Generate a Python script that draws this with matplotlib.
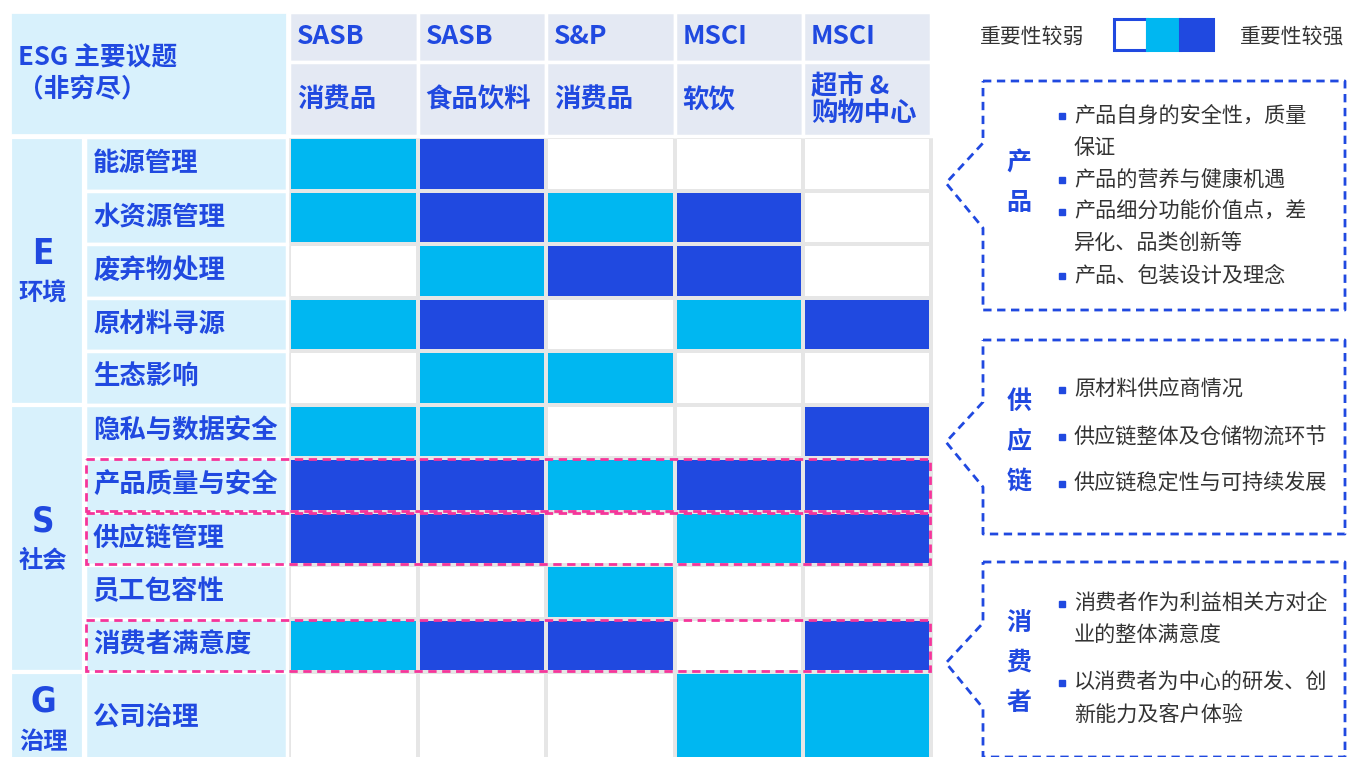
import matplotlib
matplotlib.use("Agg")
import matplotlib.pyplot as plt
from matplotlib.colors import ListedColormap
from matplotlib.patches import Rectangle
import numpy as np

plt.rcParams['font.family'] = ['Noto Sans CJK SC', 'DejaVu Sans']

# ---- data ----
sources = ["SASB", "SASB", "S&P", "MSCI", "MSCI"]
industries = ["消费品", "食品饮料", "消费品", "软饮", "超市 &\n购物中心"]
topics = ["能源管理", "水资源管理", "废弃物处理", "原材料寻源", "生态影响",
          "隐私与数据安全", "产品质量与安全", "供应链管理", "员工包容性", "消费者满意度",
          "公司治理"]
groups = [("E", "环境", 0, 5), ("S", "社会", 5, 10), ("G", "治理", 10, 11)]
# 0 = weaker (white), 1 = medium (cyan), 2 = stronger (dark blue)
levels = np.array([
    [1, 2, 0, 0, 0],
    [1, 2, 1, 2, 0],
    [0, 1, 2, 2, 0],
    [1, 2, 0, 1, 2],
    [0, 1, 1, 0, 0],
    [1, 1, 0, 0, 2],
    [2, 2, 1, 2, 2],
    [2, 2, 0, 1, 2],
    [0, 0, 1, 0, 0],
    [1, 2, 2, 0, 2],
    [0, 0, 0, 1, 1],
])
highlight_rows = ["产品质量与安全", "供应链管理", "消费者满意度"]
legend_low, legend_high = "重要性较弱", "重要性较强"
notes = [
    ("产品", [["产品自身的安全性，质量", "保证"], ["产品的营养与健康机遇"],
              ["产品细分功能价值点，差", "异化、品类创新等"], ["产品、包装设计及理念"]]),
    ("供应链", [["原材料供应商情况"], ["供应链整体及仓储物流环节"], ["供应链稳定性与可持续发展"]]),
    ("消费者", [["消费者作为利益相关方对企", "业的整体满意度"], ["以消费者为中心的研发、创", "新能力及客户体验"]]),
]

# ---- style ----
WHITE, CYAN, DARK = "#ffffff", "#00b7f1", "#2049e0"
LIGHT = "#d8f1fc"
HEAD = "#e4e9f3"
PINK = "#f5359a"
TXT = "#333333"

fig = plt.figure(figsize=(13.47, 7.57), dpi=100)
ax = fig.add_axes([0, 0, 1, 1])
ax.set_xlim(0, 1347)
ax.set_ylim(757, 0)
ax.axis("off")

# layout (pixels)
x_edges = np.array([289, 417.5, 546, 674.5, 803, 931])
row_h = 53.5
y_edges = np.append(137 + row_h * np.arange(11), 762)

# heatmap cells
cmap = ListedColormap([WHITE, CYAN, DARK])
ax.pcolormesh(x_edges, y_edges, levels, cmap=cmap, vmin=-0.5, vmax=2.5,
              edgecolors="#e6e6e6", linewidth=1.5)

# header
ax.add_patch(Rectangle((10, 12), 277, 123, facecolor=LIGHT, edgecolor="white", lw=2))
ax.text(18, 58, "ESG 主要议题", fontsize=18.5, fontweight="bold", color=DARK, va="center")
ax.text(18, 90, "（非穷尽）", fontsize=18.5, fontweight="bold", color=DARK, va="center")
for i, (src, ind) in enumerate(zip(sources, industries)):
    x0, x1 = x_edges[i], x_edges[i + 1]
    ax.add_patch(Rectangle((x0, 12), x1 - x0, 50, facecolor=HEAD, edgecolor="white", lw=2.5))
    ax.add_patch(Rectangle((x0, 62), x1 - x0, 74, facecolor=HEAD, edgecolor="white", lw=2.5))
    ax.text(x0 + 8, 37, src, fontsize=19, fontweight="bold", color=DARK, va="center")
    ax.text(x0 + 8, 100, ind, fontsize=19, fontweight="bold", color=DARK, va="center",
            linespacing=1.0)

# topic labels
for r, t in enumerate(topics):
    y0, y1 = y_edges[r], y_edges[r + 1]
    ax.add_patch(Rectangle((85, y0), 202, y1 - y0, facecolor=LIGHT, edgecolor="white", lw=2.5))
    yc = (y0 + y1) / 2 if r < len(topics) - 1 else 717
    ax.text(93, yc, t, fontsize=19, fontweight="bold", color=DARK, va="center")

# group labels
for letter, name, r0, r1 in groups:
    y0, y1 = y_edges[r0], y_edges[r1]
    ax.add_patch(Rectangle((10, y0), 74, y1 - y0, facecolor=LIGHT, edgecolor="white", lw=3))
    yc = (y0 + y1) / 2 if r1 - r0 > 1 else 719
    ax.text(43, yc - 17, letter, fontsize=25, fontweight="bold", color=DARK,
            ha="center", va="center", family="DejaVu Sans", fontstretch="condensed")
    ax.text(43, yc + 23, name, fontsize=17.5, fontweight="bold", color=DARK,
            ha="center", va="center")

# highlighted rows (pink dashed)
for t in highlight_rows:
    r = topics.index(t)
    ax.add_patch(Rectangle((86, y_edges[r] + 1), 844, row_h - 2, facecolor="none",
                           edgecolor=PINK, lw=2, linestyle=(0, (3, 2)), zorder=5))

# legend
ax.text(980, 37, legend_low, fontsize=15, color=TXT, va="center")
ax.text(1240, 37, legend_high, fontsize=15, color=TXT, va="center")
for k, c in enumerate([WHITE, CYAN, DARK]):
    ax.add_patch(Rectangle((1114 + 33 * k, 19), 33, 31, facecolor=c,
                           edgecolor=DARK if k == 0 else c, lw=2.2, zorder=3))

# note boxes with chevrons
boxes = [(81, 310, 183), (340, 534, 442), (562, 757, 663)]
for (top, bot, apex), (label, items) in zip(boxes, notes):
    xl, xr, xp = 983, 1345, 946
    px = [xl, xr, xr, xl, xl, xp, xl, xl]
    py = [top, top, bot, bot, apex + 45, apex, apex - 40, top]
    ax.plot(px, py, color=DARK, lw=2, linestyle=(0, (3, 2)), solid_joinstyle="miter")
    n = len(label)
    for k, ch in enumerate(label):
        ax.text(1019, apex + (k - (n - 1) / 2) * 40, ch, fontsize=18, fontweight="bold",
                color=DARK, ha="center", va="center")
    nlines = sum(len(it) for it in items)
    gap = 15 if label != "产品" else 0
    total = nlines * 32 + (len(items) - 1) * gap
    y = (top + bot) / 2 - total / 2 + 16
    for it in items:
        ax.plot(1062, y, marker="s", ms=4.5, color=DARK)
        for line in it:
            ax.text(1074, y, line, fontsize=15.2, color=TXT, va="center")
            y += 32
        y += gap

fig.savefig("out.png", dpi=100)
